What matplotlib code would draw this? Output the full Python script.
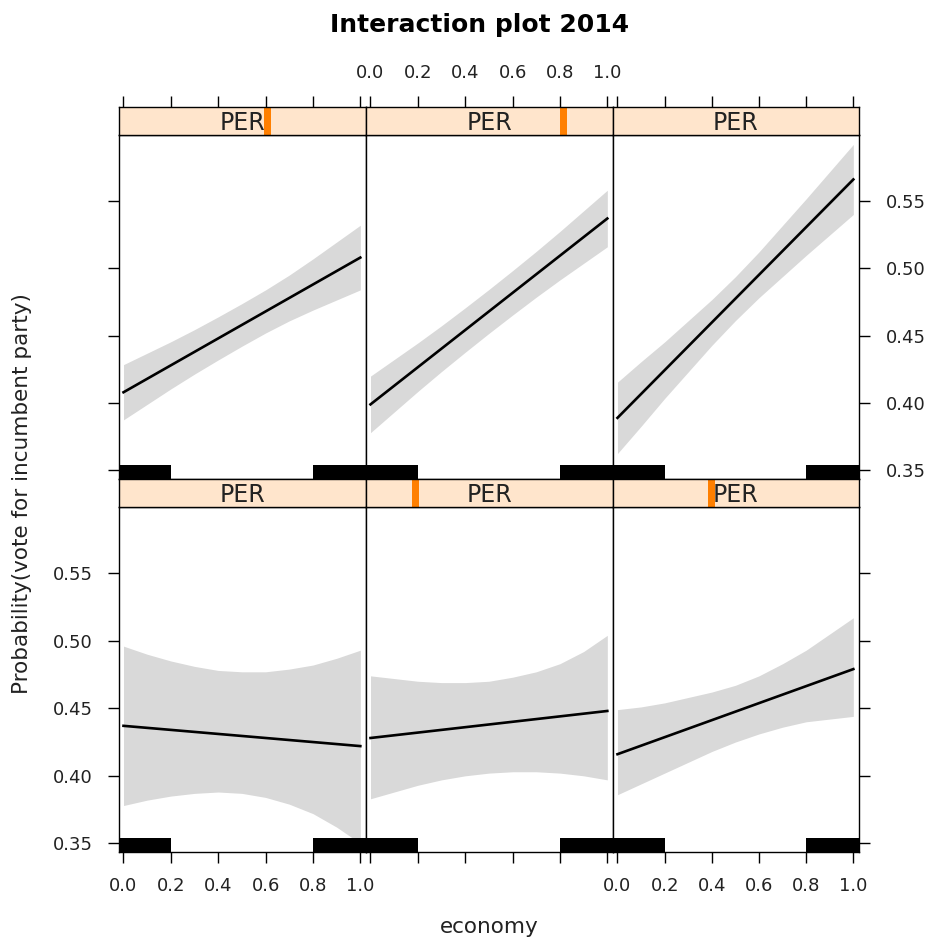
import matplotlib
matplotlib.use('Agg')
import matplotlib.pyplot as plt
from matplotlib.patches import Rectangle
import matplotlib.transforms as mtrans

W, H = 929, 943

# economy grid and effect estimates per PER level
econ_x = [0.0, 0.1, 0.2, 0.3, 0.4, 0.5, 0.6, 0.7, 0.8, 0.9, 1.0]
per_levels = [0.6, 0.8, 1.0, 0.0, 0.2, 0.4]   # top row first, left to right

fit = [
    [0.408, 0.418, 0.428, 0.438, 0.448, 0.458, 0.468, 0.478, 0.488, 0.498, 0.508],
    [0.399, 0.4128, 0.4266, 0.4404, 0.4542, 0.468, 0.4818, 0.4956, 0.5094, 0.5232, 0.537],
    [0.389, 0.4067, 0.4244, 0.4421, 0.4598, 0.4775, 0.4952, 0.5129, 0.5306, 0.5483, 0.566],
    [0.437, 0.4355, 0.434, 0.4325, 0.431, 0.4295, 0.428, 0.4265, 0.425, 0.4235, 0.422],
    [0.428, 0.430, 0.432, 0.434, 0.436, 0.438, 0.440, 0.442, 0.444, 0.446, 0.448],
    [0.416, 0.4223, 0.4286, 0.4349, 0.4412, 0.4475, 0.4538, 0.4601, 0.4664, 0.4727, 0.479],
]
upper = [
    [0.4285, 0.437, 0.4455, 0.4545, 0.464, 0.4738, 0.484, 0.495, 0.507, 0.5195, 0.532],
    [0.420, 0.4323, 0.4446, 0.4574, 0.4707, 0.4843, 0.4983, 0.5126, 0.5274, 0.5427, 0.558],
    [0.4155, 0.4307, 0.4454, 0.4611, 0.4768, 0.4938, 0.5122, 0.5319, 0.5516, 0.5718, 0.592],
    [0.496, 0.490, 0.485, 0.481, 0.478, 0.477, 0.477, 0.479, 0.482, 0.487, 0.493],
    [0.474, 0.472, 0.470, 0.469, 0.469, 0.470, 0.473, 0.477, 0.483, 0.492, 0.504],
    [0.449, 0.451, 0.454, 0.458, 0.462, 0.467, 0.474, 0.483, 0.493, 0.505, 0.517],
]
lower = [
    [0.3875, 0.399, 0.4105, 0.4215, 0.432, 0.4422, 0.452, 0.461, 0.469, 0.4765, 0.484],
    [0.378, 0.3933, 0.4086, 0.4234, 0.4377, 0.4517, 0.4653, 0.4786, 0.4914, 0.5037, 0.516],
    [0.3625, 0.3827, 0.4034, 0.4231, 0.4428, 0.4612, 0.4782, 0.4939, 0.5096, 0.5248, 0.540],
    [0.378, 0.382, 0.385, 0.387, 0.388, 0.387, 0.384, 0.379, 0.372, 0.362, 0.350],
    [0.383, 0.388, 0.393, 0.397, 0.400, 0.402, 0.403, 0.403, 0.402, 0.400, 0.397],
    [0.386, 0.394, 0.402, 0.410, 0.418, 0.425, 0.431, 0.436, 0.440, 0.442, 0.444],
]

# rug of observed economy values
rug_ranges = [(-0.05, 0.2), (0.8, 1.05)]

x_ticks = [0.0, 0.2, 0.4, 0.6, 0.8, 1.0]
y_ticks = [0.35, 0.40, 0.45, 0.50, 0.55]
xlim = (-0.019, 1.024)
ylim = (0.3436, 0.599)

col_edges = [119, 366, 613, 859]
rows = [(107, 135, 479), (479, 507, 852)]   # strip top, panel top, panel bottom

strip_col = '#FFE5CC'
band_col = '#D9D9D9'
txt_col = '#222222'


def box(x0, y0, x1, y1):
    return [x0 / W, 1 - y1 / H, (x1 - x0) / W, (y1 - y0) / H]


fig = plt.figure(figsize=(W / 100, H / 100), dpi=100)

for i in range(6):
    r, c = divmod(i, 3)
    s_top, p_top, p_bot = rows[r]
    x0, x1 = col_edges[c], col_edges[c + 1]

    ax = fig.add_axes(box(x0, p_top, x1, p_bot))
    ax.fill_between(econ_x, lower[i], upper[i], color=band_col, lw=0)
    ax.plot(econ_x, fit[i], color='black', lw=1.9)
    trans = mtrans.blended_transform_factory(ax.transData, ax.transAxes)
    for a, b in rug_ranges:
        ax.add_patch(Rectangle((a, 0), b - a, 14 / (p_bot - p_top),
                               transform=trans, color='black', lw=0))
    ax.set_xlim(xlim)
    ax.set_ylim(ylim)
    for sp in ax.spines.values():
        sp.set_linewidth(1.0)

    ax.set_xticks(x_ticks)
    ax.set_yticks(y_ticks)
    ax.set_xticklabels(['%.1f' % v for v in x_ticks])
    ax.set_yticklabels(['%.2f' % v for v in y_ticks])
    ax.tick_params(direction='out', length=8, width=1, labelsize=13,
                   labelcolor=txt_col, color='black')
    ax.tick_params(axis='x', pad=10)
    ax.tick_params(axis='y', pad=11)

    bottom_row = r == 1
    ax.tick_params(axis='x', bottom=bottom_row, top=False,
                   labelbottom=bottom_row and c != 1, labeltop=False)
    ax.tick_params(axis='y', left=(c == 0), right=(c == 2),
                   labelleft=(c == 0 and bottom_row),
                   labelright=(c == 2 and not bottom_row))

    # strip
    sax = fig.add_axes(box(x0, s_top, x1, p_top))
    sax.set_facecolor(strip_col)
    sax.set_xlim(xlim)
    sax.set_ylim(0, 1)
    lvl = per_levels[i]
    if 0 < lvl < 1:
        sax.add_patch(Rectangle((lvl - 0.014, 0), 0.028, 1,
                                transform=sax.transAxes, color='#FF7F00', lw=0))
    sax.text(0.5, 0.42, 'PER', transform=sax.transAxes, ha='center',
             va='center', fontsize=17, color=txt_col)
    for sp in sax.spines.values():
        sp.set_linewidth(1.0)
    sax.set_yticks([])
    sax.set_xticks(x_ticks)
    sax.set_xticklabels(['%.1f' % v for v in x_ticks])
    sax.tick_params(axis='x', direction='out', length=8, width=1, labelsize=13,
                    labelcolor=txt_col, pad=10, bottom=False, labelbottom=False,
                    top=(r == 0), labeltop=(r == 0 and c == 1))

fig.text(480 / W, 1 - 25 / H, 'Interaction plot 2014', ha='center',
         va='center', fontsize=18, fontweight='bold', color='black')
fig.text(489 / W, 1 - 927 / H, 'economy', ha='center', va='center',
         fontsize=15.5, color=txt_col)
fig.text(22 / W, 1 - 494 / H, 'Probability(vote for incumbent party)',
         ha='center', va='center', rotation=90, fontsize=15.5, color=txt_col)

fig.savefig('out.png', dpi=100)
